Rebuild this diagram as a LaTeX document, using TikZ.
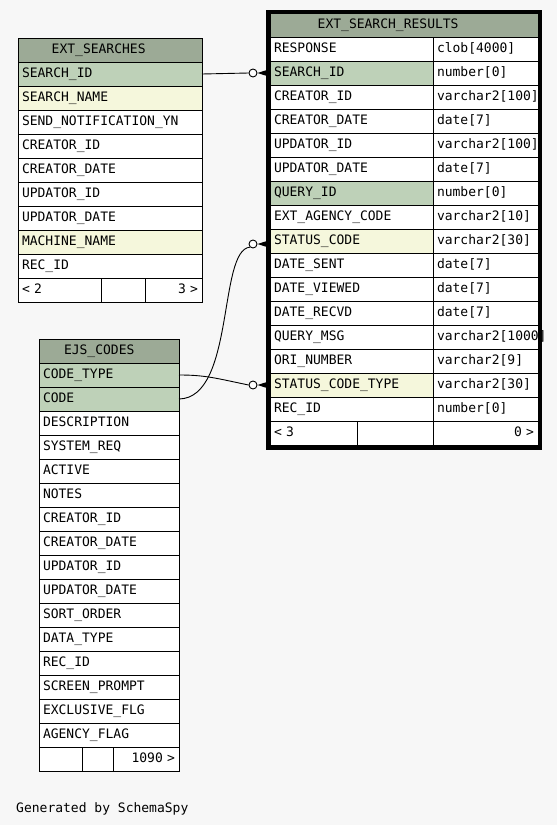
\documentclass[tikz,border=0pt]{standalone}
\usepackage{fontspec}
\newfontfamily\erdfont{DejaVu Sans Mono}[HyphenChar=None]
\usepackage{xcolor}
\usetikzlibrary{positioning}

\definecolor{hdrGreen}{HTML}{9CAA96}
\definecolor{keyGreen}{HTML}{BED1B8}
\definecolor{idxYellow}{HTML}{F5F7DC}
\definecolor{bgGray}{HTML}{F7F7F7}

\begin{document}
\begin{tikzpicture}[
  x=1pt, y=-1pt,
  font=\erdfont\fontsize{13pt}{15pt}\selectfont,
  cell/.style={draw, line width=1pt, fill=white, outer sep=0pt, inner xsep=4pt,
    inner ysep=0pt, minimum height=24pt, text height=9.5pt, text depth=3pt,
    align=left, anchor=north west},
  hdr/.style={cell, fill=hdrGreen},
  key/.style={cell, fill=keyGreen},
  idx/.style={cell, fill=idxYellow},
  footR/.style={cell, align=right},
  esCol/.style={text width=176pt},
  esrName/.style={text width=155pt},
  esrType/.style={text width=97pt},
  ejsCol/.style={text width=132pt},
  fkLine/.style={line width=0.9pt},
  fkDot/.style={circle, draw, line width=0.9pt, fill=white, inner sep=0pt, minimum size=8pt},
  frame/.style={line width=4pt}
]

\def\xES{18}
\def\yES{38}
\def\xESR{270}
\def\yESR{13}
\def\xEJS{39}
\def\yEJS{339}

\fill[bgGray] (0,0) rectangle (557,825);
\useasboundingbox (0,0) rectangle (557,825);

% ------------------------
% EXT_SEARCHES
% ------------------------
\node[hdr, inner xsep=33.7pt, text width=116.6pt] (esHead) at (\xES,\yES) {EXT\_SEARCHES};
\node[key, esCol, below=0pt of esHead] (esSearchId)   {SEARCH\_ID};
\node[idx, esCol, below=0pt of esSearchId] (esSearchName) {SEARCH\_NAME};
\node[cell, esCol, below=0pt of esSearchName] (esSendNotif) {SEND\_NOTIFICATION\_YN};
\node[cell, esCol, below=0pt of esSendNotif] (esCreatorId) {CREATOR\_ID};
\node[cell, esCol, below=0pt of esCreatorId] (esCreatorDate) {CREATOR\_DATE};
\node[cell, esCol, below=0pt of esCreatorDate] (esUpdatorId) {UPDATOR\_ID};
\node[cell, esCol, below=0pt of esUpdatorId] (esUpdatorDate) {UPDATOR\_DATE};
\node[idx, esCol, below=0pt of esUpdatorDate] (esMachine) {MACHINE\_NAME};
\node[cell, esCol, below=0pt of esMachine] (esRecId) {REC\_ID};

\node[cell, text width=75pt] (esFootL) at (esRecId.south west) {< 2};
\node[cell, text width=36pt, right=0pt of esFootL] (esFootM) {};
\node[footR, text width=49pt, right=0pt of esFootM] (esFootR) {3 >};

% ------------------------
% EXT_SEARCH_RESULTS
% ------------------------
\node[hdr, inner xsep=47.7pt, text width=172.6pt] (esrHead) at (\xESR,\yESR) {EXT\_SEARCH\_RESULTS};

\node[cell, esrName, below=0pt of esrHead.south west, anchor=north west] (esrResponse) {RESPONSE};
\node[cell, esrType, right=0pt of esrResponse] (esrResponseT) {clob[4000]};
\node[key, esrName, below=0pt of esrResponse] (esrSearchId) {SEARCH\_ID};
\node[cell, esrType, right=0pt of esrSearchId] (esrSearchIdT) {number[0]};
\node[cell, esrName, below=0pt of esrSearchId] (esrCreatorId) {CREATOR\_ID};
\node[cell, esrType, right=0pt of esrCreatorId] (esrCreatorIdT) {varchar2[100]};
\node[cell, esrName, below=0pt of esrCreatorId] (esrCreatorDate) {CREATOR\_DATE};
\node[cell, esrType, right=0pt of esrCreatorDate] (esrCreatorDateT) {date[7]};
\node[cell, esrName, below=0pt of esrCreatorDate] (esrUpdatorId) {UPDATOR\_ID};
\node[cell, esrType, right=0pt of esrUpdatorId] (esrUpdatorIdT) {varchar2[100]};
\node[cell, esrName, below=0pt of esrUpdatorId] (esrUpdatorDate) {UPDATOR\_DATE};
\node[cell, esrType, right=0pt of esrUpdatorDate] (esrUpdatorDateT) {date[7]};
\node[key, esrName, below=0pt of esrUpdatorDate] (esrQueryId) {QUERY\_ID};
\node[cell, esrType, right=0pt of esrQueryId] (esrQueryIdT) {number[0]};
\node[cell, esrName, below=0pt of esrQueryId] (esrAgency) {EXT\_AGENCY\_CODE};
\node[cell, esrType, right=0pt of esrAgency] (esrAgencyT) {varchar2[10]};
\node[idx, esrName, below=0pt of esrAgency] (esrStatus) {STATUS\_CODE};
\node[cell, esrType, right=0pt of esrStatus] (esrStatusT) {varchar2[30]};
\node[cell, esrName, below=0pt of esrStatus] (esrSent) {DATE\_SENT};
\node[cell, esrType, right=0pt of esrSent] (esrSentT) {date[7]};
\node[cell, esrName, below=0pt of esrSent] (esrViewed) {DATE\_VIEWED};
\node[cell, esrType, right=0pt of esrViewed] (esrViewedT) {date[7]};
\node[cell, esrName, below=0pt of esrViewed] (esrRecvd) {DATE\_RECVD};
\node[cell, esrType, right=0pt of esrRecvd] (esrRecvdT) {date[7]};
\node[cell, esrName, below=0pt of esrRecvd] (esrQueryMsg) {QUERY\_MSG};
\node[cell, esrType, right=0pt of esrQueryMsg] (esrQueryMsgT) {varchar2[1000]};
\node[cell, esrName, below=0pt of esrQueryMsg] (esrOri) {ORI\_NUMBER};
\node[cell, esrType, right=0pt of esrOri] (esrOriT) {varchar2[9]};
\node[idx, esrName, below=0pt of esrOri] (esrStatusType) {STATUS\_CODE\_TYPE};
\node[cell, esrType, right=0pt of esrStatusType] (esrStatusTypeT) {varchar2[30]};
\node[cell, esrName, below=0pt of esrStatusType] (esrRecId) {REC\_ID};
\node[cell, esrType, right=0pt of esrRecId] (esrRecIdT) {number[0]};

\node[cell, text width=79pt] (esrFootL) at (esrRecId.south west) {< 3};
\node[cell, text width=68pt, right=0pt of esrFootL] (esrFootM) {};
\node[footR, text width=97pt, right=0pt of esrFootM] (esrFootR) {0 >};

% ------------------------
% EJS_CODES
% ------------------------
\node[hdr, inner xsep=25pt, text width=90pt] (ejsHead) at (\xEJS,\yEJS) {EJS\_CODES};
\node[key, ejsCol, below=0pt of ejsHead] (ejsCodeType) {CODE\_TYPE};
\node[key, ejsCol, below=0pt of ejsCodeType] (ejsCode) {CODE};
\node[cell, ejsCol, below=0pt of ejsCode] (ejsDescr) {DESCRIPTION};
\node[cell, ejsCol, below=0pt of ejsDescr] (ejsSysReq) {SYSTEM\_REQ};
\node[cell, ejsCol, below=0pt of ejsSysReq] (ejsActive) {ACTIVE};
\node[cell, ejsCol, below=0pt of ejsActive] (ejsNotes) {NOTES};
\node[cell, ejsCol, below=0pt of ejsNotes] (ejsCreatorId) {CREATOR\_ID};
\node[cell, ejsCol, below=0pt of ejsCreatorId] (ejsCreatorDate) {CREATOR\_DATE};
\node[cell, ejsCol, below=0pt of ejsCreatorDate] (ejsUpdatorId) {UPDATOR\_ID};
\node[cell, ejsCol, below=0pt of ejsUpdatorId] (ejsUpdatorDate) {UPDATOR\_DATE};
\node[cell, ejsCol, below=0pt of ejsUpdatorDate] (ejsSort) {SORT\_ORDER};
\node[cell, ejsCol, below=0pt of ejsSort] (ejsDataType) {DATA\_TYPE};
\node[cell, ejsCol, below=0pt of ejsDataType] (ejsRecId) {REC\_ID};
\node[cell, ejsCol, below=0pt of ejsRecId] (ejsPrompt) {SCREEN\_PROMPT};
\node[cell, ejsCol, below=0pt of ejsPrompt] (ejsExclusive) {EXCLUSIVE\_FLG};
\node[cell, ejsCol, below=0pt of ejsExclusive] (ejsAgency) {AGENCY\_FLAG};

\node[cell, text width=35pt] (ejsFootL) at (ejsAgency.south west) {};
\node[cell, text width=23pt, right=0pt of ejsFootL] (ejsFootM) {};
\node[footR, text width=58pt, right=0pt of ejsFootM] (ejsFootR) {1090 >};

% ------------------------
% Foreign keys (zero-or-many ends)
% ------------------------
\node[fkDot] (oSearch) at ([xshift=-17pt]esrSearchId.west) {};
\node[fkDot] (oStatus) at ([xshift=-17pt, yshift=-3pt]esrStatus.west) {};
\node[fkDot] (oType)   at ([xshift=-17pt]esrStatusType.west) {};

\draw[fkLine] (esSearchId.east) -- (oSearch.west);
\draw[fkLine] (ejsCode.east) .. controls (235,398) and (218,250) .. (oStatus.south west);
\draw[fkLine] (ejsCodeType.east) .. controls (205,375) and (215,378) .. (oType.west);

\fill (oSearch.east) -- ([yshift=4pt]esrSearchId.west) -- ([yshift=-4pt]esrSearchId.west) -- cycle;
\fill (oStatus.east) -- ([yshift=1pt]esrStatus.west) -- ([yshift=-7pt]esrStatus.west) -- cycle;
\fill (oType.east) -- ([yshift=4pt]esrStatusType.west) -- ([yshift=-4pt]esrStatusType.west) -- cycle;

% thick frame of the focused table
\draw[frame] ([shift={(-2pt,1.5pt)}]esrHead.north west) rectangle ([shift={(2pt,-2.5pt)}]esrFootR.south east);

\node[anchor=base west, inner sep=0pt] (credit) at (16,812) {Generated by SchemaSpy};

\end{tikzpicture}
\end{document}
